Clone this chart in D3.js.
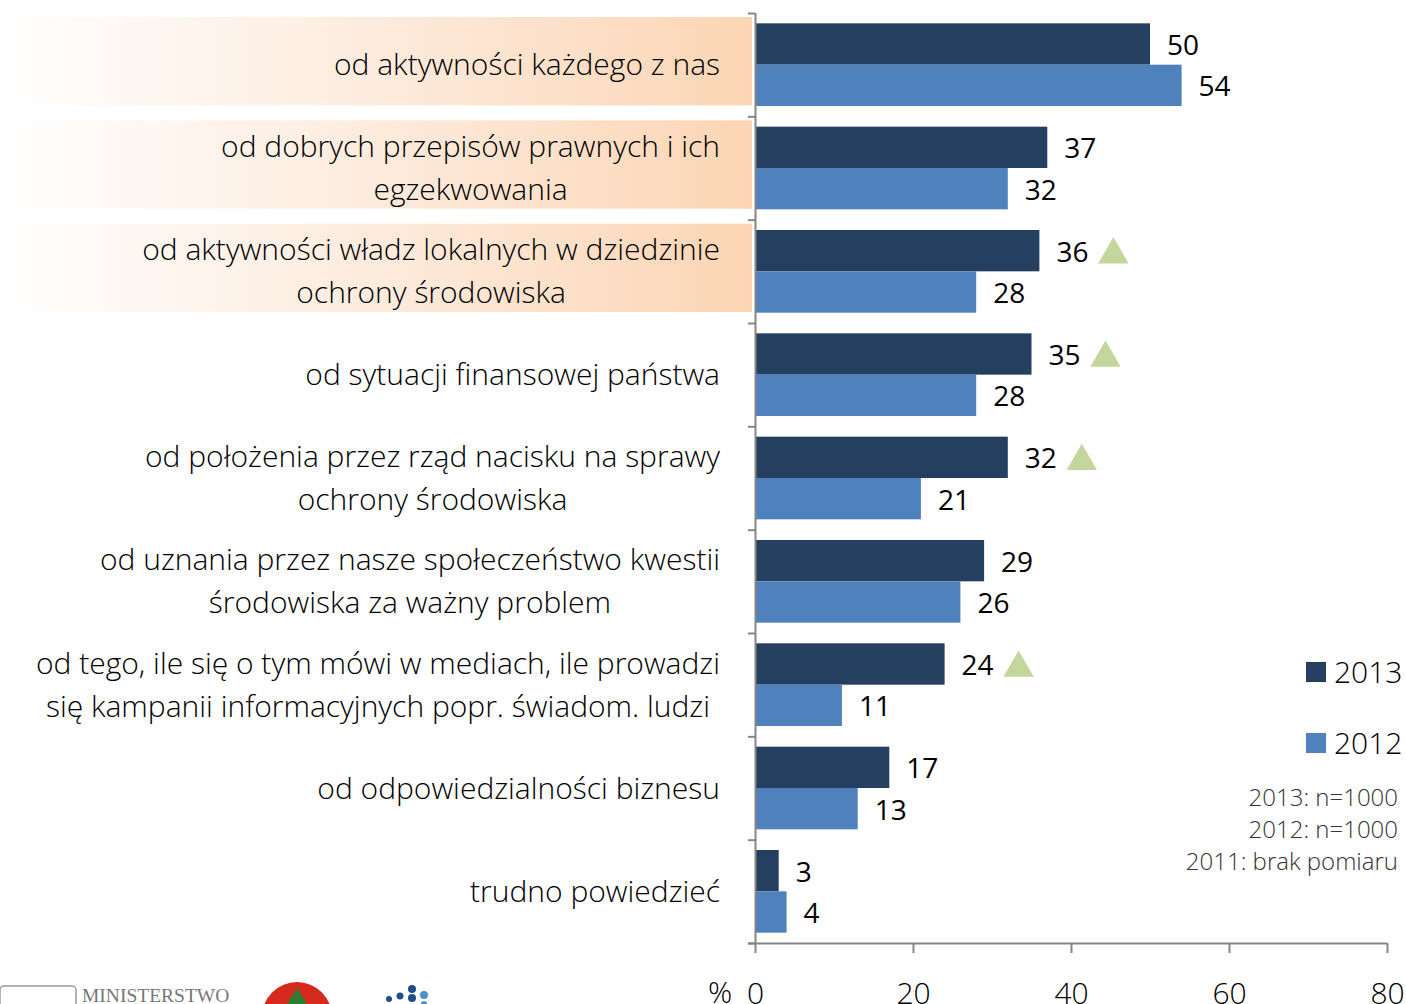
<!DOCTYPE html>
<html>
<head>
<meta charset="utf-8">
<script src="https://cdn.jsdelivr.net/npm/d3@7"></script>
<style>
  body { margin: 0; background: #fff; }
  svg { display: block; font-family: "Open Sans", sans-serif; font-weight: 300; }
</style>
</head>
<body>
<div id="chart"></div>
<script>
// data
var categories = [
  ["od aktywności każdego z nas"],
  ["od dobrych przepisów prawnych i ich", "egzekwowania"],
  ["od aktywności władz lokalnych w dziedzinie", "ochrony środowiska"],
  ["od sytuacji finansowej państwa"],
  ["od położenia przez rząd nacisku na sprawy", "ochrony środowiska"],
  ["od uznania przez nasze społeczeństwo kwestii", "środowiska za ważny problem"],
  ["od tego, ile się o tym mówi w mediach, ile prowadzi", "się kampanii informacyjnych popr. świadom. ludzi"],
  ["od odpowiedzialności biznesu"],
  ["trudno powiedzieć"]
];
var values2013 = [50, 37, 36, 35, 32, 29, 24, 17, 3];
var values2012 = [54, 32, 28, 28, 21, 26, 11, 13, 4];
var increased = [false, false, true, true, true, false, true, false, false];
var highlighted = [true, true, true, false, false, false, false, false, false];
var xTicks = [0, 20, 40, 60, 80];
var seriesNames = ["2013", "2012"];
var notes = ["2013: n=1000", "2012: n=1000", "2011: brak pomiaru"];

var width = 1406, height = 1004;
var dark = "#243f60", light = "#4f81bd", triColor = "#c3d69b", axisColor = "#868686";

var svg = d3.select("#chart").append("svg")
  .attr("width", width)
  .attr("height", height);

var defs = svg.append("defs");
var grad = defs.append("linearGradient").attr("id", "peach");
grad.append("stop").attr("offset", "0%").attr("stop-color", "#ffffff");
grad.append("stop").attr("offset", "55%").attr("stop-color", "#fde9d9");
grad.append("stop").attr("offset", "100%").attr("stop-color", "#fcd5b4");

var x = d3.scaleLinear().domain([0, 80]).range([755, 1387]);
var idx = d3.range(categories.length);
var y = d3.scaleBand().domain(idx).range([13, 943]).paddingInner(0.2).paddingOuter(0.1);
var yEdge = d3.scaleLinear().domain([0, categories.length]).range([13, 943]);
var half = y.bandwidth() / 2;

// highlight bands behind labels
svg.selectAll("rect.hl")
  .data(idx.filter(function(i) { return highlighted[i]; }))
  .enter().append("rect")
  .attr("class", "hl")
  .attr("x", 0)
  .attr("y", function(i) { return yEdge(i) + 4; })
  .attr("width", 752)
  .attr("height", yEdge(1) - yEdge(0) - 15)
  .attr("fill", "url(#peach)");

// category labels, lines centered inside a right aligned block
var labels = svg.selectAll("g.lab")
  .data(idx)
  .enter().append("g")
  .attr("class", "lab");

labels.each(function(i) {
  var g = d3.select(this);
  var lines = categories[i];
  var cy = y(i) + y.bandwidth() / 2;
  var t = g.selectAll("text").data(lines).enter().append("text")
    .attr("font-size", 30)
    .attr("fill", "#000")
    .attr("text-anchor", "middle")
    .attr("dy", "0.35em")
    .attr("y", function(d, k) { return cy + (k - (lines.length - 1) / 2) * 43; })
    .text(function(d) { return d; });
  var maxW = d3.max(t.nodes(), function(n) { return n.getComputedTextLength(); });
  t.attr("x", 720 - maxW / 2);
});

// bars
svg.selectAll("rect.b13")
  .data(idx)
  .enter().append("rect")
  .attr("class", "b13")
  .attr("x", x(0))
  .attr("y", function(i) { return y(i); })
  .attr("width", function(i) { return x(values2013[i]) - x(0); })
  .attr("height", half)
  .attr("fill", dark);

svg.selectAll("rect.b12")
  .data(idx)
  .enter().append("rect")
  .attr("class", "b12")
  .attr("x", x(0))
  .attr("y", function(i) { return y(i) + half; })
  .attr("width", function(i) { return x(values2012[i]) - x(0); })
  .attr("height", half)
  .attr("fill", light);

// value labels
svg.selectAll("text.v13")
  .data(idx)
  .enter().append("text")
  .attr("class", "v13")
  .attr("x", function(i) { return x(values2013[i]) + 17; })
  .attr("y", function(i) { return y(i) + half / 2 + 1; })
  .attr("dy", "0.36em")
  .attr("font-size", 28)
  .attr("font-weight", 400)
  .text(function(i) { return values2013[i]; });

svg.selectAll("text.v12")
  .data(idx)
  .enter().append("text")
  .attr("class", "v12")
  .attr("x", function(i) { return x(values2012[i]) + 17; })
  .attr("y", function(i) { return y(i) + half * 1.5 + 1; })
  .attr("dy", "0.36em")
  .attr("font-size", 28)
  .attr("font-weight", 400)
  .text(function(i) { return values2012[i]; });

// increase markers
var tri = d3.symbol().type(d3.symbolTriangle).size(400);
svg.selectAll("path.tri")
  .data(idx.filter(function(i) { return increased[i]; }))
  .enter().append("path")
  .attr("class", "tri")
  .attr("transform", function(i) {
    return "translate(" + (x(values2013[i]) + 74) + "," + (y(i) + half / 2 + 4) + ")";
  })
  .attr("d", tri)
  .attr("fill", triColor);

// axes
var xAxis = d3.axisBottom(x).tickValues(xTicks).tickSize(10).tickPadding(30);
var gx = svg.append("g")
  .attr("transform", "translate(0,943)")
  .call(xAxis);
gx.select(".domain").attr("stroke", axisColor).attr("stroke-width", 2)
  .attr("d", "M748,0.5H" + x(80));
gx.selectAll(".tick line").attr("stroke", axisColor).attr("stroke-width", 2);
gx.selectAll(".tick text")
  .attr("font-size", 30)
  .attr("font-family", "Open Sans, sans-serif")
  .attr("font-weight", 300)
  .attr("fill", "#000");

svg.append("text")
  .attr("x", 720)
  .attr("y", 1003)
  .attr("font-size", 30)
  .attr("text-anchor", "middle")
  .text("%");

var yAxis = d3.axisLeft(yEdge).tickValues(d3.range(categories.length + 1)).tickSize(7).tickFormat("");
var gy = svg.append("g")
  .attr("transform", "translate(755,0)")
  .call(yAxis);
gy.select(".domain").attr("stroke", axisColor).attr("stroke-width", 2).attr("d", "M0.5,13V943");
gy.selectAll(".tick line").attr("stroke", axisColor).attr("stroke-width", 2);

// legend
var legend = svg.append("g").attr("class", "legend");
legend.selectAll("rect")
  .data(seriesNames)
  .enter().append("rect")
  .attr("x", 1306)
  .attr("y", function(d, i) { return 662 + i * 71; })
  .attr("width", 20)
  .attr("height", 20)
  .attr("fill", function(d, i) { return i === 0 ? dark : light; });
legend.selectAll("text")
  .data(seriesNames)
  .enter().append("text")
  .attr("x", 1334)
  .attr("y", function(d, i) { return 672 + i * 71; })
  .attr("dy", "0.36em")
  .attr("font-size", 30)
  .text(function(d) { return d; });

svg.selectAll("text.note")
  .data(notes)
  .enter().append("text")
  .attr("class", "note")
  .attr("x", 1398)
  .attr("y", function(d, i) { return 806 + i * 32; })
  .attr("text-anchor", "end")
  .attr("font-size", 24)
  .attr("fill", "#333")
  .text(function(d) { return d; });

// logos, cut off at the bottom edge
var logos = svg.append("g").attr("class", "logos");
logos.append("rect")
  .attr("x", 0).attr("y", 986).attr("width", 76).attr("height", 40).attr("rx", 4)
  .attr("fill", "none").attr("stroke", "#999").attr("stroke-width", 1.5);
logos.append("text")
  .attr("x", 82).attr("y", 1002)
  .attr("font-family", "Liberation Serif, serif")
  .attr("font-weight", 400)
  .attr("font-size", 19.5)
  .attr("fill", "#777")
  .text("MINISTERSTWO");
logos.append("circle")
  .attr("cx", 297).attr("cy", 1017).attr("r", 35).attr("fill", "#d52b1e");
logos.append("path")
  .attr("d", "M297,988 L287,1004 L307,1004 Z")
  .attr("fill", "#2e7d32");
var dots = [[412, 989, 4, "#1f4e8c"], [424, 995, 4, "#4a90c8"], [400, 996, 3.5, "#1f4e8c"], [412, 998, 4, "#1f4e8c"], [389, 999, 3, "#1f4e8c"], [424, 1004, 3, "#4a90c8"]];
logos.selectAll("circle.dot")
  .data(dots)
  .enter().append("circle")
  .attr("class", "dot")
  .attr("cx", function(d) { return d[0]; })
  .attr("cy", function(d) { return d[1]; })
  .attr("r", function(d) { return d[2]; })
  .attr("fill", function(d) { return d[3]; });
</script>
</body>
</html>
